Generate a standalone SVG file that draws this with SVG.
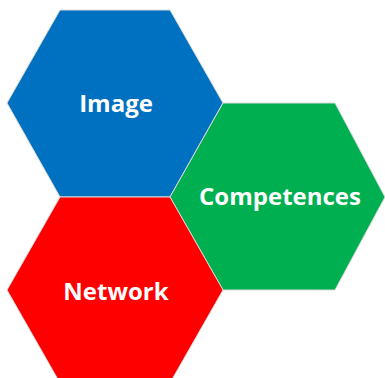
<svg xmlns="http://www.w3.org/2000/svg" width="385" height="378" viewBox="0 0 385 378">
<style>
.hex{stroke:#d9d9d9;stroke-width:1}
.lbl{font-family:"Open Sans","Liberation Sans",sans-serif;font-weight:bold;font-size:24px;fill:#fff;text-anchor:middle}
</style>
<rect width="385" height="378" fill="#fff"/>
<g id="connectors"/>
<g id="image">
<polygon class="hex" fill="#0070C0" points="7,103 60,10 170,10 223,103 170,197 60,197"/>
<text class="lbl" x="116" y="112">Image</text>
</g>
<g id="competences">
<polygon class="hex" fill="#00B050" points="170,197 223,103 335,103 385,197 335,290 223,290"/>
<text class="lbl" x="280" y="205">Competences</text>
</g>
<g id="network">
<polygon class="hex" fill="#FF0000" points="7,290 60,197 170,197 223,290 170,383 60,383"/>
<text class="lbl" x="116" y="300">Network</text>
</g>
</svg>
